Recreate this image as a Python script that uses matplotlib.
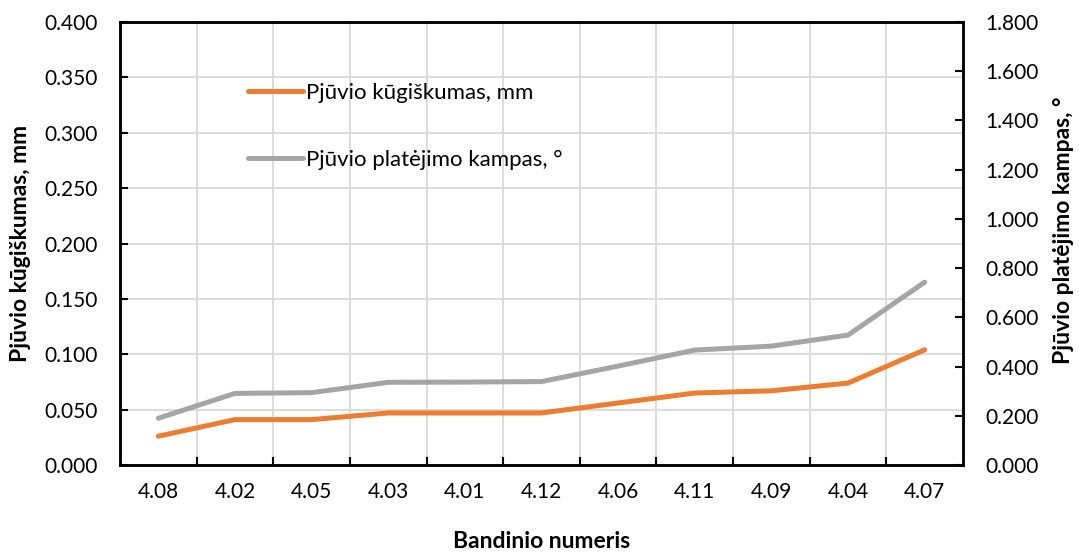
import matplotlib
matplotlib.use("Agg")
import matplotlib.pyplot as plt
import numpy as np
from matplotlib.ticker import FormatStrFormatter, MultipleLocator, FixedLocator

plt.rcParams['font.family'] = ['Lato', 'DejaVu Sans']

samples = ["4.08", "4.02", "4.05", "4.03", "4.01", "4.12", "4.06", "4.11", "4.09", "4.04", "4.07"]
taper_mm = [0.026, 0.041, 0.041, 0.047, 0.047, 0.047, 0.056, 0.065, 0.067, 0.074, 0.104]
angle_deg = [0.190, 0.291, 0.294, 0.336, 0.337, 0.339, 0.402, 0.467, 0.483, 0.528, 0.743]

orange = "#ED7D31"
gray = "#A5A5A5"

fig = plt.figure(figsize=(10.79, 5.53), dpi=100)
ax = fig.add_axes([0.1112, 0.1591, 0.7813, 0.8011])
ax2 = ax.twinx()

x = np.arange(len(samples))
l1, = ax.plot(x, taper_mm, color=orange, lw=3.6, solid_capstyle='round',
              label="Pjūvio kūgiškumas, mm", zorder=3)
l2, = ax2.plot(x, angle_deg, color=gray, lw=3.6, solid_capstyle='round',
               label="Pjūvio platėjimo kampas, °", zorder=3)

ax.set_xlim(-0.5, len(samples) - 0.5)
ax.set_ylim(0, 0.4)
ax2.set_ylim(0, 1.8)

ax.yaxis.set_major_locator(MultipleLocator(0.05))
ax.yaxis.set_major_formatter(FormatStrFormatter('%.3f'))
ax2.yaxis.set_major_locator(MultipleLocator(0.2))
ax2.yaxis.set_major_formatter(FormatStrFormatter('%.3f'))

ax.set_xticks(x)
ax.set_xticklabels(samples)
ax.xaxis.set_minor_locator(FixedLocator(np.arange(0.5, len(samples) - 1, 1.0)))

ax.grid(True, axis='y', which='major', color='#D9D9D9', lw=1.3)
ax.grid(True, axis='x', which='minor', color='#D9D9D9', lw=1.3)
ax.set_axisbelow(True)

ax.tick_params(axis='x', which='major', length=0, pad=12, labelsize=15)
ax.tick_params(axis='x', which='minor', direction='in', length=6, width=1.5, color='black')
ax.tick_params(axis='y', direction='in', length=6, width=1.5, pad=16, labelsize=15)
ax2.tick_params(axis='y', direction='in', length=6, width=1.5, pad=16, labelsize=15)

for a in (ax, ax2):
    for s in a.spines.values():
        s.set_color('black')
        s.set_linewidth(1.8)

ax.set_xlabel("Bandinio numeris", fontsize=16.5, fontweight='bold')
ax.xaxis.set_label_coords(0.5, -0.148)
ax.set_ylabel("Pjūvio kūgiškumas, mm", fontsize=16.5, fontweight='bold')
ax.yaxis.set_label_coords(-0.106, 0.5)
ax2.set_ylabel("Pjūvio platėjimo kampas, °", fontsize=16.5, fontweight='bold', rotation=90)
ax2.yaxis.set_label_coords(1.107, 0.53)

ax2.legend(handles=[l1, l2], loc='upper left', bbox_to_anchor=(0.128, 0.908),
           frameon=False, fontsize=16, handlelength=2.5, handletextpad=0.1,
           labelspacing=2.13)

fig.savefig("out.png", dpi=100)
